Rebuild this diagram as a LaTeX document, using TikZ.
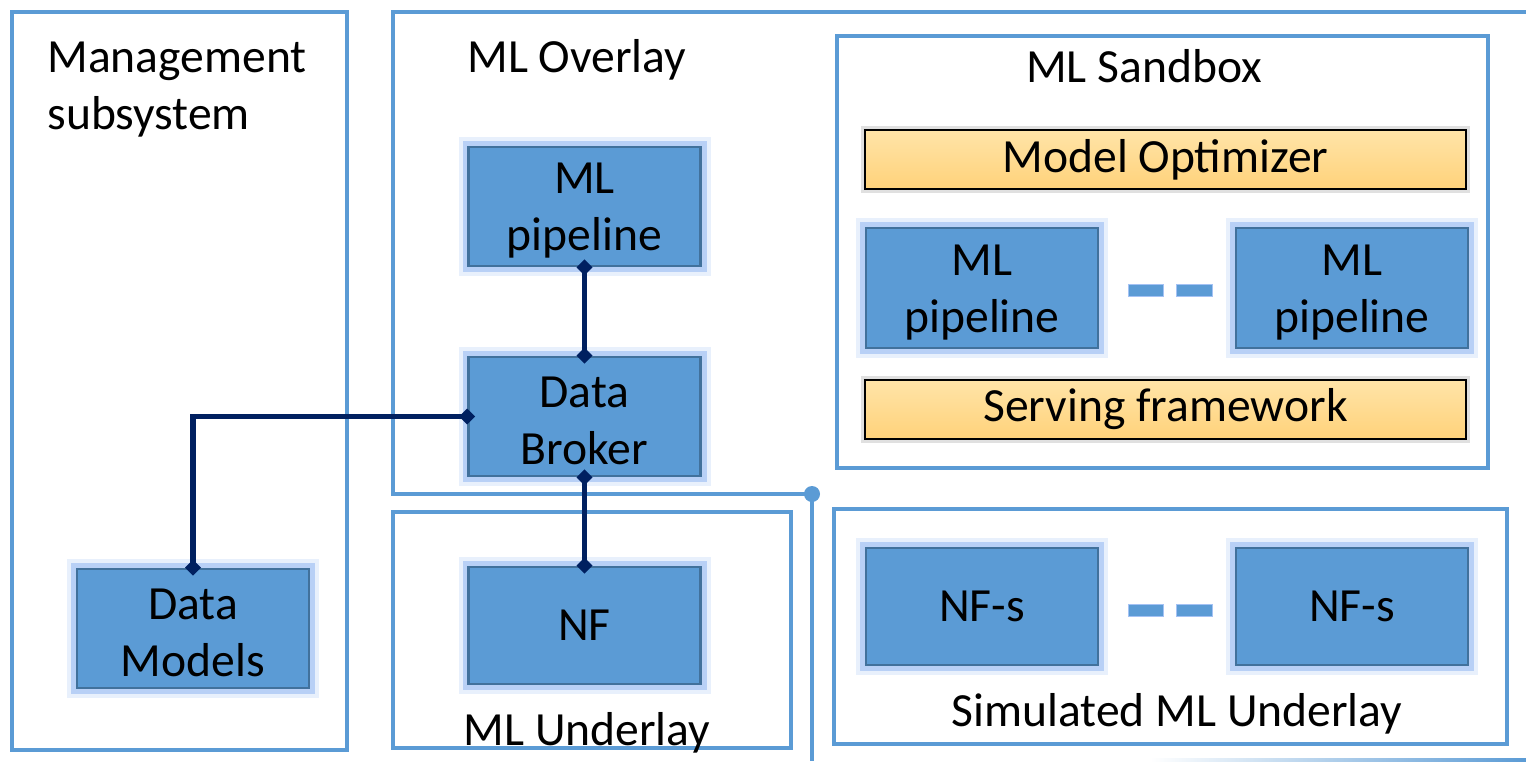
\documentclass[tikz,border=0pt]{standalone}
\usepackage{fontspec}
\setmainfont{Carlito}
\usetikzlibrary{arrows.meta}
\definecolor{bluefill}{HTML}{5B9BD5}
\definecolor{blueedge}{HTML}{41719C}
\definecolor{glowc}{HTML}{A4C2F4}
\definecolor{framec}{HTML}{5B9BD5}
\definecolor{navy}{HTML}{002060}
\definecolor{orangetop}{HTML}{FFE4A8}
\definecolor{orangebot}{HTML}{FFD27A}
\newcommand{\topstrut}{\rule{0pt}{19.5pt}}
\tikzset{
  txt/.style={font=\fontsize{23.8}{28.5}\selectfont, inner sep=0pt},
  mlbox/.style={txt, draw=blueedge, fill=bluefill, line width=1.3pt, align=center,
    minimum width=116pt, minimum height=59.5pt,
    preaction={draw=glowc, line width=10pt, opacity=0.25, rounded corners=5pt},
    preaction={draw=glowc, line width=6pt, opacity=0.7, rounded corners=3pt}},
  barbox/.style={txt, draw=black, line width=0.7pt, top color=orangetop, bottom color=orangebot,
    minimum width=300.5pt, minimum height=29.5pt,
    preaction={draw=black!12, line width=4pt, rounded corners=2pt}},
  framebox/.style={draw=framec, line width=1.6pt},
  link/.style={draw=navy, line width=2.6pt,
    {Diamond[length=8pt,width=8pt]}-{Diamond[length=8pt,width=8pt]},
    shorten <=-4pt, shorten >=-4pt},
  dashbar/.style={fill=bluefill, draw=glowc, line width=0.4pt}
}
\begin{document}
\begin{tikzpicture}[x=0.5pt, y=-0.5pt]
\useasboundingbox (0,0) rectangle (1526,761);

% frames
\draw[framebox] (12,12) rectangle (347,750);
\draw[framebox] (837,36) rectangle (1488,468);
\draw[framebox] (834,509) rectangle (1507,744);
\draw[framebox] (393,512) rectangle (791,748);
\coordinate (dot) at (812,494);
\draw[framebox] (1526,12) -- (393,12) -- (393,494) -- (dot) -- (812,761);
\fill[framec] (dot) circle (4pt);
\shade[left color=white, right color=framec] (1150,758) rectangle (1526,761);

% titles
\node[txt, anchor=base west] (t1a) at (47,72) {Management};
\node[txt, anchor=base west] (t1b) at (47,129) {subsystem};
\node[txt, anchor=base west] (t2) at (467,72) {ML Overlay};
\node[txt, anchor=base] (t3) at (1144,82) {ML Sandbox};
\node[txt, anchor=base] (t4) at (587,745) {ML Underlay};
\node[txt, anchor=base] (t5) at (1177,726) {Simulated ML Underlay};

% blue boxes
\node[mlbox] (mlp) at (584.5,206.5) {\topstrut ML\\pipeline};
\node[mlbox] (db) at (584.5,416.5) {\topstrut Data\\Broker};
\node[mlbox, minimum height=58.5pt] (nf) at (584.5,625.5) {NF};
\node[mlbox] (dm) at (193,628.5) {\topstrut Data\\Models};
\node[mlbox, minimum height=60pt] (sp1) at (982,288) {\topstrut ML\\pipeline};
\node[mlbox, minimum height=60pt] (sp2) at (1352,288) {\topstrut ML\\pipeline};
\node[mlbox, minimum height=58.5pt] (nfs1) at (982,606.5) {NF-s};
\node[mlbox, minimum height=58.5pt] (nfs2) at (1352,606.5) {NF-s};

% orange bars
\node[barbox] (mo) at (1165.5,159.5) {Model Optimizer};
\node[barbox] (sf) at (1165.5,409.5) {Serving framework};

% dashes
\draw[dashbar] (1128,284) rectangle (1163,296);
\draw[dashbar] (1176,284) rectangle (1212,296);
\draw[dashbar] (1128,604) rectangle (1163,616);
\draw[dashbar] (1176,604) rectangle (1212,616);

% connectors
\draw[link] (mlp.south) -- (db.north);
\draw[link] (db.south) -- (nf.north);
\draw[link] (db.west) -| (dm.north);
\end{tikzpicture}
\end{document}
